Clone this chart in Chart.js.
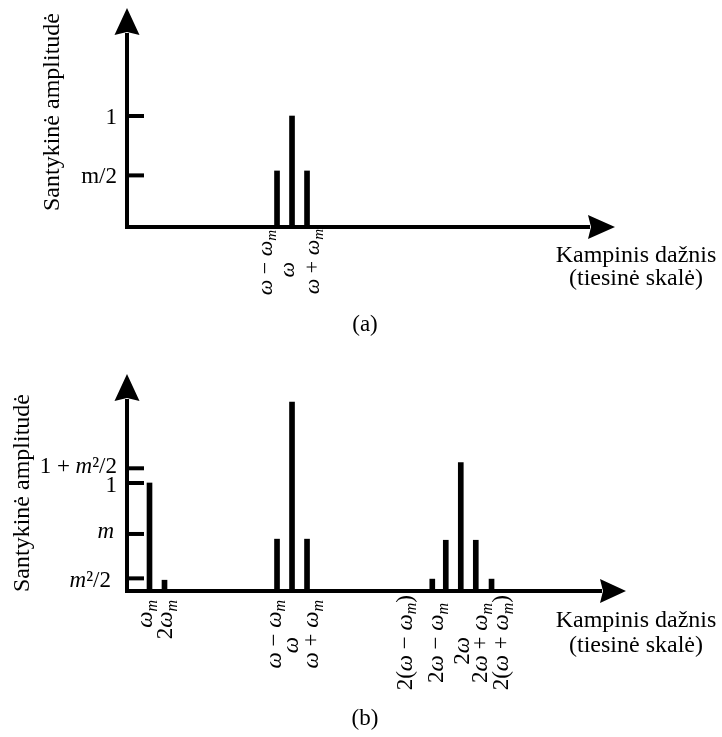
<!DOCTYPE html>
<html>
<head>
<meta charset="utf-8">
<script src="https://cdn.jsdelivr.net/npm/chart.js@4.4.0/dist/chart.umd.min.js"></script>
<style>
  html, body { margin: 0; padding: 0; background: #fff; }
  #wrap { position: relative; width: 722px; height: 737px; }
  canvas { position: absolute; left: 0; }
</style>
</head>
<body>
<div id="wrap">
  <canvas id="chartA" width="722" height="345" style="top:0px"></canvas>
  <canvas id="chartB" width="722" height="372" style="top:365px"></canvas>
</div>
<script>
// panel (a): AM spectrum
const freqA = [10, 11, 12];
const ampA = [0.505, 1.0, 0.505];
const freqLabelsA = ['ω − ω_m', 'ω', 'ω + ω_m'];
const yTicksA = [1.0, 0.465];
const yTickLabelsA = ['1', 'm/2'];

// panel (b): spectrum with harmonics
const freqB = [1.5, 2.5, 10, 11, 12, 20.35, 21.25, 22.25, 23.25, 24.3];
const ampB = [1.0, 0.1, 0.48, 1.75, 0.48, 0.11, 0.47, 1.19, 0.47, 0.11];
const freqLabelsB = ['ω_m', '2ω_m', 'ω − ω_m', 'ω', 'ω + ω_m',
  '2(ω − ω_m)', '2ω − ω_m', '2ω', '2ω + ω_m', '2(ω + ω_m)'];
const yTicksB = [1.136, 1.0, 0.528, 0.117];
const yTickLabelsB = ['1 + m²/2', '1', 'm', 'm²/2'];

const yTitle = 'Santykinė amplitudė';
const xTitle = ['Kampinis dažnis', '(tiesinė skalė)'];

const FONT = '"Liberation Serif", "Times New Roman", serif';

// split a label into runs: '_x' = subscript x, chars in `italic` are italic
function runs(str, italic) {
  const out = [];
  for (let i = 0; i < str.length; i++) {
    let ch = str[i], sub = false;
    if (ch === '_') { sub = true; i++; ch = str[i]; }
    const it = italic.indexOf(ch) >= 0;
    const last = out[out.length - 1];
    if (last && last.sub === sub && last.it === it) last.t += ch;
    else out.push({ t: ch, sub: sub, it: it });
  }
  return out;
}
function runFont(r, size) {
  return (r.it ? 'italic ' : '') + (r.sub ? Math.round(size * 0.7) : size) + 'px ' + FONT;
}
function richWidth(ctx, str, size, italic) {
  let w = 0;
  runs(str, italic).forEach(function (r) {
    ctx.font = runFont(r, size);
    w += ctx.measureText(r.t).width;
  });
  return w;
}
function drawRich(ctx, str, x, y, size, italic) {
  ctx.textAlign = 'left';
  ctx.textBaseline = 'alphabetic';
  runs(str, italic).forEach(function (r) {
    ctx.font = runFont(r, size);
    ctx.fillText(r.t, x, y + (r.sub ? size * 0.2 : 0));
    x += ctx.measureText(r.t).width;
  });
}

function sketchPlugin(cfg) {
  return {
    id: 'sketch',
    afterDatasetsDraw: function (chart) {
      const ctx = chart.ctx;
      const a = chart.chartArea;
      const xs = chart.scales.x, ys = chart.scales.y;
      ctx.save();
      ctx.fillStyle = '#000';
      ctx.strokeStyle = '#000';
      ctx.lineWidth = 4;

      // axes
      ctx.beginPath();
      ctx.moveTo(a.left, a.bottom + 2);
      ctx.lineTo(a.left, a.top - 2);
      ctx.moveTo(a.left - 2, a.bottom);
      ctx.lineTo(a.right + 2, a.bottom);
      ctx.stroke();

      // arrow heads
      ctx.beginPath();
      ctx.moveTo(a.left, cfg.arrowTipY);
      ctx.lineTo(a.left + 12.5, a.top);
      ctx.lineTo(a.left, a.top - 3);
      ctx.lineTo(a.left - 12.5, a.top);
      ctx.closePath();
      ctx.fill();
      ctx.beginPath();
      ctx.moveTo(cfg.arrowTipX, a.bottom);
      ctx.lineTo(a.right, a.bottom - 12);
      ctx.lineTo(a.right + 3, a.bottom);
      ctx.lineTo(a.right, a.bottom + 12);
      ctx.closePath();
      ctx.fill();

      // y ticks and labels
      cfg.yTicks.forEach(function (v, i) {
        const py = ys.getPixelForValue(v);
        ctx.beginPath();
        ctx.moveTo(a.left, py);
        ctx.lineTo(a.left + 17, py);
        ctx.stroke();
        const w = richWidth(ctx, cfg.yTickLabels[i], 23, cfg.yItalic);
        drawRich(ctx, cfg.yTickLabels[i], 117 + cfg.yTickDx[i] - w, py + cfg.yTickDy[i], 23, cfg.yItalic);
      });

      // rotated frequency labels
      cfg.xLabels.forEach(function (lab, i) {
        const px = xs.getPixelForValue(cfg.freq[i]) + cfg.xLabelDx[i];
        const top = a.bottom + cfg.xLabelGap[i];
        const w = richWidth(ctx, lab, cfg.xLabelSize, 'ωm');
        ctx.save();
        ctx.translate(px, top);
        ctx.rotate(-Math.PI / 2);
        drawRich(ctx, lab, -w, 0, cfg.xLabelSize, 'ωm');
        ctx.restore();
      });

      // axis titles
      ctx.save();
      ctx.translate(cfg.yTitleX, cfg.yTitleY);
      ctx.rotate(-Math.PI / 2);
      ctx.font = '24px ' + FONT;
      ctx.textAlign = 'center';
      ctx.textBaseline = 'alphabetic';
      ctx.fillText(yTitle, 0, 0);
      ctx.restore();

      ctx.font = '24px ' + FONT;
      ctx.textAlign = 'center';
      ctx.textBaseline = 'alphabetic';
      ctx.fillText(xTitle[0], 636, cfg.xTitleY[0]);
      ctx.fillText(xTitle[1], 636, cfg.xTitleY[1]);
      ctx.font = '23px ' + FONT;
      ctx.fillText(cfg.caption, 365, cfg.captionY);
      ctx.restore();
    }
  };
}

function makeChart(id, cfg) {
  return new Chart(document.getElementById(id), {
    type: 'bar',
    data: {
      datasets: [{
        data: cfg.freq.map(function (f, i) { return { x: f, y: cfg.amp[i] }; }),
        backgroundColor: '#000',
        borderWidth: 0,
        barThickness: 5
      }]
    },
    options: {
      responsive: false,
      animation: false,
      devicePixelRatio: 1,
      layout: { padding: cfg.padding },
      plugins: { legend: { display: false }, tooltip: { enabled: false } },
      scales: {
        x: { type: 'linear', offset: false, min: 0, max: cfg.xMax, display: false },
        y: { min: 0, max: cfg.yMax, display: false }
      }
    },
    plugins: [sketchPlugin(cfg)]
  });
}

makeChart('chartA', {
  freq: freqA, amp: ampA, xMax: 30.73, yMax: 1.73,
  padding: { left: 127, right: 134, top: 35, bottom: 118 },
  xLabels: freqLabelsA, xLabelDx: [-5.5, 1.5, 12], xLabelGap: [3, 35, 2], xLabelSize: 22,
  yTicks: yTicksA, yTickLabels: yTickLabelsA, yTickDx: [0, 0], yTickDy: [8, 7.5], yItalic: '',
  arrowTipY: 8, arrowTipX: 615,
  yTitleX: 59, yTitleY: 112, xTitleY: [262, 285],
  caption: '(a)', captionY: 331
});

makeChart('chartB', {
  freq: freqB, amp: ampB, xMax: 31.53, yMax: 1.759,
  padding: { left: 127, right: 122, top: 36, bottom: 146 },
  xLabels: freqLabelsB,
  xLabelDx: [2.5, 7.5, 3.5, 5.5, 11, -20.5, -2.5, 8.5, 11.5, 16.5],
  xLabelGap: [9, 9, 9, 46, 9, 4, 12, 46, 12, 4], xLabelSize: 23,
  yTicks: yTicksB, yTickLabels: yTickLabelsB, yTickDx: [0, 0, -3, -6], yTickDy: [5, 9, 4, 9], yItalic: 'm',
  arrowTipY: 9, arrowTipX: 626,
  yTitleX: 29, yTitleY: 128, xTitleY: [262, 287],
  caption: '(b)', captionY: 360
});
</script>
</body>
</html>
